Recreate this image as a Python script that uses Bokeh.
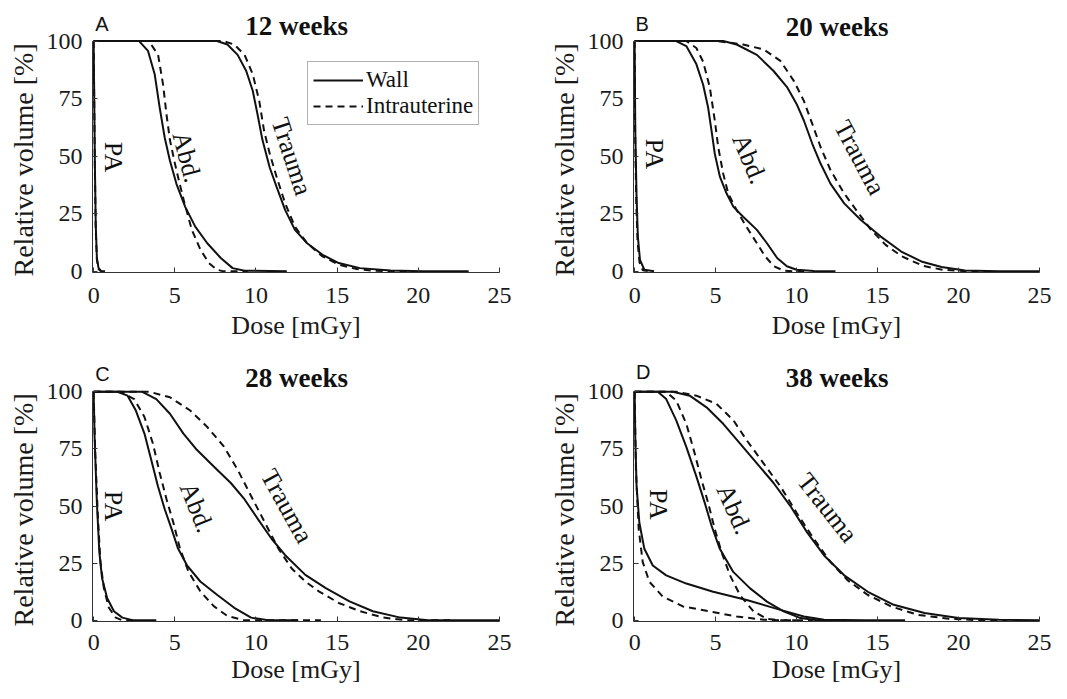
from bokeh.plotting import figure
from bokeh.models import Range1d, FixedTicker, Label, Legend, LegendItem, Title
from bokeh.layouts import column, row
from bokeh.core.properties import value
from bokeh.embed import file_html
from bokeh.resources import INLINE

# ---------------- data (dose in mGy, relative volume in %) ----------------
panel_letters = ["A", "B", "C", "D"]
panel_titles = ["12 weeks", "20 weeks", "28 weeks", "38 weeks"]
x_ticks = [0, 5, 10, 15, 20, 25]
y_ticks = [0, 25, 50, 75, 100]

# Panel A - 12 weeks
a_pa_wall_dose = [0, 0.03, 0.08, 0.13, 0.2, 0.3, 0.45, 0.7]
a_pa_wall_vol = [100, 80, 45, 20, 6, 1.5, 0.2, 0]
a_pa_intra_dose = [0, 0.03, 0.08, 0.13, 0.2, 0.3, 0.45]
a_pa_intra_vol = [100, 78, 42, 18, 5, 1, 0]
a_abd_wall_dose = [0, 2.8, 3.35, 3.76, 4.07, 4.38, 4.7, 5.1, 5.64, 6.26, 7.0, 7.83, 8.56, 9.3, 11.9]
a_abd_wall_vol = [100, 100, 95.7, 85.6, 71, 58, 48, 38, 28, 19.4, 12.2, 5.8, 1.4, 0.3, 0]
a_abd_intra_dose = [0, 3.4, 3.97, 4.28, 4.49, 4.7, 5.0, 5.3, 5.6, 6.05, 6.58, 7.1, 7.6, 8.0, 9.5]
a_abd_intra_vol = [100, 100, 94, 81, 68, 57, 47, 38, 29.5, 18, 9.4, 3.6, 0.7, 0, 0]
a_tr_wall_dose = [0, 7.6, 8.24, 8.87, 9.4, 9.8, 10.1, 10.4, 10.85, 11.27, 11.8, 12.4, 13.15, 14.1, 15.1, 16.4, 18.3, 20.3, 23.1]
a_tr_wall_vol = [100, 100, 98.5, 94, 87, 78.4, 68, 57, 45, 36.7, 26.6, 18, 12.2, 7.2, 3.6, 1.4, 0.4, 0, 0]
a_tr_intra_dose = [0, 8.0, 8.66, 9.3, 9.8, 10.2, 10.5, 10.85, 11.27, 11.8, 12.4, 13.15, 14.1, 15.1, 16.2, 17.2, 18.3, 19.5]
a_tr_intra_vol = [100, 100, 98.5, 94, 85.6, 74, 61, 51, 41, 29.5, 19.4, 12.2, 6.5, 2.9, 1.0, 0.3, 0, 0]

# Panel B - 20 weeks
b_pa_wall_dose = [0, 0.04, 0.12, 0.2, 0.33, 0.6, 1.2]
b_pa_wall_vol = [100, 61, 32, 15, 5, 0.7, 0]
b_pa_intra_dose = [0, 0.03, 0.1, 0.18, 0.3, 0.5, 0.9]
b_pa_intra_vol = [100, 60, 30, 13, 4, 0.5, 0]
b_abd_wall_dose = [0, 2.57, 3.19, 3.81, 4.23, 4.54, 4.75, 4.95, 5.27, 5.68, 6.1, 6.7, 7.55, 8.17, 8.8, 9.4, 10.0, 11.07, 12.4]
b_abd_wall_vol = [100, 100, 97.8, 90, 81, 71, 61, 51, 41, 33.8, 28, 23.7, 18, 12.2, 5.8, 2.2, 0.7, 0.1, 0]
b_abd_intra_dose = [0, 3.19, 3.81, 4.23, 4.64, 4.95, 5.16, 5.47, 5.78, 6.3, 6.9, 7.55, 8.06, 8.6, 9.2, 9.8, 10.5]
b_abd_intra_vol = [100, 100, 97, 91, 80, 65.5, 54, 42.4, 33.8, 26.6, 19.4, 12.2, 6.5, 2.2, 0.3, 0, 0]
b_tr_wall_dose = [0, 5.47, 6.3, 7.55, 8.58, 9.41, 10.0, 10.45, 10.97, 11.48, 12.1, 12.94, 13.97, 15.2, 16.46, 17.7, 18.95, 20.4, 22.5, 25]
b_tr_wall_vol = [100, 100, 98.5, 94, 87, 80, 72.7, 65.5, 55.4, 46.8, 38, 29.5, 22.3, 15.1, 8.6, 4.3, 1.9, 0.4, 0, 0]
b_tr_intra_dose = [0, 5.06, 6.7, 7.96, 9.0, 9.83, 10.45, 10.97, 11.48, 12.1, 12.94, 13.9, 14.6, 15.5, 16.5, 17.8, 19.0, 20.5, 22]
b_tr_intra_vol = [100, 100, 98.5, 96.4, 91.4, 82.7, 74, 64, 54, 43.9, 33.8, 24.5, 18, 11.5, 6.5, 2.4, 0.7, 0, 0]

# Panel C - 28 weeks
c_pa_wall_dose = [0, 0.06, 0.2, 0.35, 0.52, 0.83, 1.25, 1.77, 2.4, 3.86]
c_pa_wall_vol = [100, 80, 51.5, 30, 18.4, 9.8, 4, 1.2, 0.1, 0]
c_pa_intra_dose = [0, 0.1, 0.27, 0.42, 0.63, 0.94, 1.36, 1.77, 2.5]
c_pa_intra_vol = [100, 73, 44, 25.6, 14, 5.5, 1.2, 0, 0]
c_abd_wall_dose = [0, 1.46, 2.09, 2.6, 3.13, 3.55, 3.96, 4.38, 4.8, 5.2, 5.74, 6.57, 7.6, 8.66, 9.7, 10.75, 12.6]
c_abd_wall_vol = [100, 100, 98.3, 91.8, 81.7, 70.2, 58.7, 48.6, 40, 31.4, 24.2, 17, 11.2, 5.5, 1.2, 0, 0]
c_abd_intra_dose = [0, 1.67, 2.5, 3.13, 3.65, 4.07, 4.49, 4.9, 5.32, 5.84, 6.57, 7.4, 8.24, 9.3, 14]
c_abd_intra_vol = [100, 100, 96.8, 89, 77.4, 64.5, 53, 43, 31.4, 21.3, 12.7, 6.2, 1.9, 0, 0]
c_tr_wall_dose = [0, 3.0, 3.86, 4.7, 5.53, 6.37, 7.4, 8.45, 9.29, 10.12, 10.96, 11.8, 13.04, 14.3, 15.76, 17.2, 18.9, 20.6, 25]
c_tr_wall_vol = [100, 100, 96.8, 90.4, 81.7, 74.5, 67.3, 60.1, 53, 44.3, 35.7, 28.5, 19.9, 14.1, 8.3, 4, 1.2, 0, 0]
c_tr_intra_dose = [0, 3.44, 4.7, 5.95, 7.0, 8.03, 8.87, 9.7, 10.54, 11.38, 12.2, 13.04, 13.87, 15.1, 16.4, 17.85, 19.3, 22]
c_tr_intra_vol = [100, 100, 97.6, 91.8, 84.6, 76, 65.9, 54.4, 42.9, 31.4, 22.7, 17, 12.7, 7.6, 4, 1.2, 0, 0]

# Panel D - 38 weeks
d_pa_wall_dose = [0, 0.04, 0.12, 0.29, 0.6, 1.12, 1.95, 3.19, 4.85, 6.92, 9.0, 10.45, 11.7, 14.2, 16.7]
d_pa_wall_vol = [100, 80, 58.6, 42.8, 31.3, 24, 19.7, 16.1, 12.5, 8.9, 4.6, 1.7, 0.3, 0, 0]
d_pa_intra_dose = [0, 0.08, 0.25, 0.5, 0.91, 1.74, 2.98, 4.64, 6.3, 7.96, 9.2, 11]
d_pa_intra_vol = [100, 65.8, 40, 25.5, 16.9, 10.4, 6.1, 3.9, 1.7, 0.3, 0, 0]
d_abd_wall_dose = [0, 1.43, 1.95, 2.57, 3.19, 3.81, 4.33, 4.75, 5.26, 6.09, 7.13, 8.17, 9.2, 10.24, 11.28, 13]
d_abd_wall_vol = [100, 100, 96.8, 87.5, 75.9, 63, 51.4, 41.4, 31.3, 21.2, 14, 8.2, 3.9, 1, 0, 0]
d_abd_intra_dose = [0, 1.95, 2.57, 3.19, 3.71, 4.13, 4.54, 4.95, 5.37, 5.89, 6.5, 7.34, 8.17, 9.0, 10]
d_abd_intra_vol = [100, 100, 96.1, 86, 73, 61.5, 51.4, 39.9, 29.8, 19.7, 11.1, 3.9, 0.7, 0, 0]
d_tr_wall_dose = [0, 2.36, 3.4, 4.44, 5.47, 6.5, 7.55, 8.58, 9.62, 10.65, 11.7, 12.94, 14.4, 16.0, 17.9, 20.0, 22.5, 25]
d_tr_wall_vol = [100, 100, 98.3, 93.2, 86, 77.4, 68.7, 60.1, 50, 38.5, 28.4, 19.7, 12.5, 6.8, 3.2, 1, 0.3, 0]
d_tr_intra_dose = [0, 2.57, 3.81, 5.06, 6.1, 6.92, 7.96, 9.0, 10.0, 11.07, 12.1, 13.14, 14.4, 15.84, 17.5, 19.4, 21.4, 23]
d_tr_intra_vol = [100, 100, 98.3, 94.7, 87.5, 78.8, 68.7, 58.6, 47.1, 35.6, 25.5, 17.6, 11.1, 6.1, 2.4, 0.7, 0, 0]

# curve-name label positions: (text, dose, volume, angle in degrees)
a_names = [("PA", 1.2, 49.6, -90), ("Abd.", 5.75, 49.6, -75), ("Trauma", 12.2, 49.9, -72)]
b_names = [("PA", 1.2, 51.0, -90), ("Abd.", 7.1, 48.9, -67), ("Trauma", 13.9, 49.4, -62)]
c_names = [("PA", 1.2, 50.0, -90), ("Abd.", 6.35, 49.4, -68), ("Trauma", 11.9, 50.0, -61)]
d_names = [("PA", 1.5, 50.7, -90), ("Abd.", 6.15, 48.6, -66), ("Trauma", 11.9, 49.3, -52)]

SERIF = "Liberation Serif"
SANS = "Liberation Sans"
INK = "#111111"
AX = "#333333"
Y_TOP = 115


def make_panel(idx, curves, names, width, height, mbl, mbr, mbt, mbb,
               title_y, letter_x, letter_y, tick_standoff, label_standoff, ylab_offset):
    p = figure(width=width, height=height, x_range=Range1d(-0.07, 25),
               y_range=Range1d(-0.5, Y_TOP), output_backend="svg",
               toolbar_location=None, min_border_left=mbl, min_border_right=mbr,
               min_border_top=mbt, min_border_bottom=mbb)
    p.outline_line_color = None
    p.grid.visible = False
    p.background_fill_color = "white"
    p.border_fill_color = "white"
    p.xaxis.ticker = FixedTicker(ticks=x_ticks)
    p.yaxis.ticker = FixedTicker(ticks=y_ticks)
    p.yaxis.bounds = (-0.5, 100)
    p.xaxis.axis_label = "Dose [mGy]"
    for ax in (p.xaxis, p.yaxis):
        ax.axis_label_text_font = SERIF
        ax.axis_label_text_font_style = "normal"
        ax.axis_label_text_color = "#1a1a1a"
        ax.major_label_text_font = SERIF
        ax.major_label_text_font_size = "24px"
        ax.major_label_text_color = "#1a1a1a"
        ax.axis_line_color = AX
        ax.axis_line_width = 1
        ax.major_tick_line_color = AX
        ax.major_tick_in = 5
        ax.major_tick_out = 0
        ax.minor_tick_in = 0
        ax.minor_tick_out = 0
    p.xaxis.axis_label_text_font_size = "26px"
    p.xaxis.major_label_standoff = tick_standoff
    p.yaxis.major_label_standoff = 10
    p.xaxis.axis_label_standoff = label_standoff

    # y-axis title, placed in the left side panel so that it centres on the 0-100 span
    ylab = Title(text="Relative volume [%]", align="left", offset=ylab_offset,
                 standoff=10, text_font=SERIF, text_font_size="28px",
                 text_font_style="normal", text_color="#1a1a1a")
    p.add_layout(ylab, "left")

    rends = []
    for dose, vol, dashed in curves:
        r = p.line(dose, vol, line_color=INK, line_width=2,
                   line_dash="7 5" if dashed else "solid")
        rends.append(r)

    for text, x, y, ang in names:
        p.add_layout(Label(x=x, y=y, text=text, angle=ang, angle_units="deg",
                           text_align="center", text_baseline="middle",
                           text_font=SERIF, text_font_size="26px", text_color=INK))

    p.add_layout(Label(x=12.5, y=title_y, text=panel_titles[idx], text_align="center",
                       text_baseline="middle", text_font=SERIF, text_font_style="bold",
                       text_font_size="27px", text_color=INK))
    p.add_layout(Label(x=letter_x, y=letter_y, text=panel_letters[idx], text_align="left",
                       text_baseline="middle", text_font=SANS, text_font_size="20px",
                       text_color=INK))
    return p, rends


curves_a = [(a_pa_wall_dose, a_pa_wall_vol, False), (a_pa_intra_dose, a_pa_intra_vol, True),
            (a_abd_wall_dose, a_abd_wall_vol, False), (a_abd_intra_dose, a_abd_intra_vol, True),
            (a_tr_wall_dose, a_tr_wall_vol, False), (a_tr_intra_dose, a_tr_intra_vol, True)]
curves_b = [(b_pa_wall_dose, b_pa_wall_vol, False), (b_pa_intra_dose, b_pa_intra_vol, True),
            (b_abd_wall_dose, b_abd_wall_vol, False), (b_abd_intra_dose, b_abd_intra_vol, True),
            (b_tr_wall_dose, b_tr_wall_vol, False), (b_tr_intra_dose, b_tr_intra_vol, True)]
curves_c = [(c_pa_wall_dose, c_pa_wall_vol, False), (c_pa_intra_dose, c_pa_intra_vol, True),
            (c_abd_wall_dose, c_abd_wall_vol, False), (c_abd_intra_dose, c_abd_intra_vol, True),
            (c_tr_wall_dose, c_tr_wall_vol, False), (c_tr_intra_dose, c_tr_intra_vol, True)]
curves_d = [(d_pa_wall_dose, d_pa_wall_vol, False), (d_pa_intra_dose, d_pa_intra_vol, True),
            (d_abd_wall_dose, d_abd_wall_vol, False), (d_abd_intra_dose, d_abd_intra_vol, True),
            (d_tr_wall_dose, d_tr_wall_vol, False), (d_tr_intra_dose, d_tr_intra_vol, True)]

# top row: 6 + 266 + 75 = 347 ; bottom row: 10 + 264 + 70 = 344
pA, rA = make_panel(0, curves_a, a_names, 541, 347, 91, 42, 6, 75, 106.5, 0.1, 107.6, 15, 5, -4)
pB, rB = make_panel(1, curves_b, b_names, 510, 347, 90, 12, 6, 75, 106.2, 0.05, 107.6, 15, 5, -4)
pC, rC = make_panel(2, curves_c, c_names, 541, 344, 91, 42, 10, 70, 106.0, 0.1, 108.0, 13, 2, -5)
pD, rD = make_panel(3, curves_d, d_names, 510, 344, 90, 12, 10, 70, 106.0, 0.08, 108.5, 13, 2, -5)

legend = Legend(items=[LegendItem(label=value("Wall"), renderers=[rA[2]]),
                       LegendItem(label=value("Intrauterine"), renderers=[rA[3]])],
                location=(215, 147), orientation="vertical",
                label_text_font=SERIF, label_text_font_size="23px", label_text_color=INK,
                glyph_width=50, glyph_height=22, label_standoff=3, label_height=22,
                padding=5, spacing=0, margin=0,
                border_line_color="#666666", border_line_width=1,
                background_fill_color="white", background_fill_alpha=1.0)
pA.add_layout(legend)

layout = column(row(pA, pB), row(pC, pD))
open("out.html", "w").write(file_html(layout, INLINE))
